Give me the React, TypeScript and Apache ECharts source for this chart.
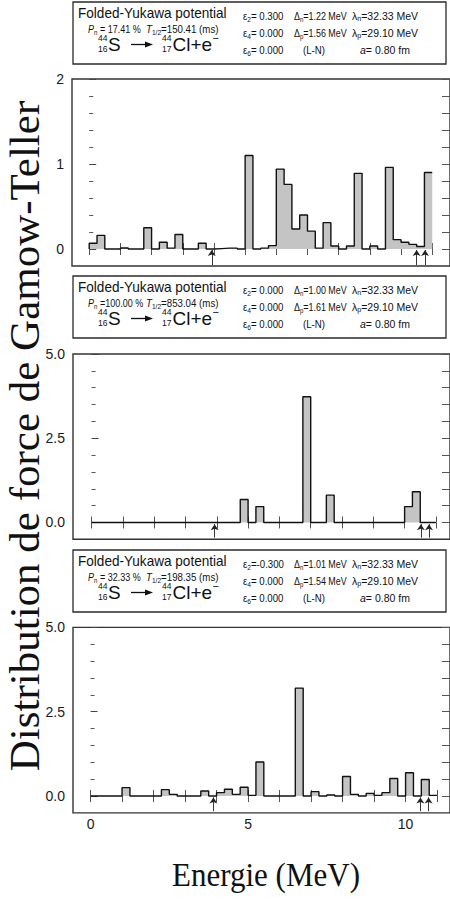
import React, { useEffect, useRef } from "react";
import * as echarts from "echarts";

// ---------- data ----------
const energyEdges = [
  0, 0.25, 0.5, 0.75, 1, 1.25, 1.5, 1.75, 2, 2.25, 2.5, 2.75, 3, 3.25, 3.5, 3.75,
  4, 4.25, 4.5, 4.75, 5, 5.25, 5.5, 5.75, 6, 6.25, 6.5, 6.75, 7, 7.25, 7.5, 7.75,
  8, 8.25, 8.5, 8.75, 9, 9.25, 9.5, 9.75, 10, 10.25, 10.5, 10.75,
];
const energyEnd = 11;

// eps2 = 0.300 (prolate)
const gtProlate = [
  0.067, 0.16, 0, 0, 0.012, 0, 0, 0.25, 0, 0.08, 0.01, 0.17, 0, 0, 0.067, 0,
  0.005, 0.01, 0.01, 0, 1.1, 0, 0.01, 0.04, 0.94, 0.76, 0.235, 0.4, 0.21, 0.01, 0.31, 0.035,
  0, 0.035, 0.89, 0, 0.035, 0, 0.96, 0.11, 0.08, 0.055, 0.03, 0.9,
];
// eps2 = 0.000 (spherical)
const gtSpherical = [
  0, 0, 0, 0, 0, 0, 0, 0, 0, 0, 0, 0, 0, 0, 0, 0,
  0, 0, 0, 0.68, 0, 0.47, 0, 0, 0, 0, 0, 3.73, 0, 0, 0.81, 0,
  0, 0, 0, 0, 0, 0, 0, 0, 0.47, 0.91, 0, 0,
];
// eps2 = -0.300 (oblate)
const gtOblate = [
  0, 0, 0, 0, 0.25, 0, 0, 0, 0, 0.19, 0.05, 0, 0, 0, 0.15, 0,
  0.1, 0.2, 0.05, 0.26, 0.02, 1.01, 0, 0, 0, 0, 3.2, 0, 0.13, 0, 0.03, 0,
  0.58, 0.05, 0, 0.08, 0.02, 0.1, 0.52, 0, 0.69, 0, 0.49, 0.02,
];

const arrowsProlate = [3.93, 10.5, 10.77];
const arrowsSpherical = [3.93, 10.52, 10.78];
const arrowsOblate = [3.9, 10.47, 10.73];

const xTickValues = [0, 1, 2, 3, 4, 5, 6, 7, 8, 9, 10, 11];
const xLabelValues = [0, 5, 10];
const yMajor1 = [0, 1, 2];
const yMinor1 = [0.2, 0.4, 0.6, 0.8, 1.2, 1.4, 1.6, 1.8];
const yMajor2 = [0, 2.5, 5];
const yMinor2 = [0.5, 1, 1.5, 2, 3, 3.5, 4, 4.5];

const pnValues = [17.41, 100.0, 32.33];
const t12Values = [150.41, 853.04, 198.35];
const eps2Values = [0.3, 0.0, -0.3];
const eps4Values = [0.0, 0.0, 0.0];
const eps6Values = [0.0, 0.0, 0.0];
const deltaNValues = [1.22, 1.0, 1.01];
const deltaPValues = [1.56, 1.61, 1.54];
const lambdaN = 32.33;
const lambdaP = 29.1;
const aDiffuse = 0.8;

const yTitle = "Distribution de force de Gamow-Teller";
const xTitle = "Energie (MeV)";
const potentialName = "Folded-Yukawa potential";

// ---------- layout ----------
const F = "'Liberation Sans', Arial, Helvetica, sans-serif";
const SERIF = "'Liberation Serif', 'Times New Roman', serif";

const panels = [
  { vals: gtProlate, arrows: arrowsProlate, left: 72, top: 79, height: 187, xMin: -0.552, xMax: 11.57,
    yMin: -0.2, yMax: 2, major: yMajor1, minor: yMinor1, dec: 0, arrowFrom: -0.19, arrowTo: -0.012 },
  { vals: gtSpherical, arrows: arrowsSpherical, left: 73, top: 354, height: 185.3, xMin: -0.593, xMax: 11.45,
    yMin: -0.5, yMax: 5, major: yMajor2, minor: yMinor2, dec: 1, arrowFrom: -0.45, arrowTo: -0.05 },
  { vals: gtOblate, arrows: arrowsOblate, left: 73, top: 627.4, height: 185.5, xMin: -0.557, xMax: 11.41,
    yMin: -0.5, yMax: 5, major: yMajor2, minor: yMinor2, dec: 1, arrowFrom: -0.45, arrowTo: -0.04 },
];
const boxTops = [2, 276, 550];

function stepData(vals: number[]) {
  const d: number[][] = [[energyEdges[0], 0]];
  vals.forEach((v, i) => d.push([energyEdges[i], v]));
  d.push([energyEnd, vals[vals.length - 1]]);
  return d;
}

const INK = "#111";
function tok(extra: any) {
  return { fontFamily: F, fill: INK, textFill: INK, color: INK, ...extra };
}
function rtext(x: number, y: number, text: string, size: number, sx = 1, align = "left") {
  return {
    type: "text",
    x, y, z: 20, silent: true, scaleX: sx, scaleY: 1,
    style: {
      text,
      fontSize: size, fontFamily: F, fill: INK, textFill: INK,
      align, textAlign: align, verticalAlign: "middle", textVerticalAlign: "middle",
      rich: {
        m: tok({ fontSize: size, lineHeight: size + 3 }),
        it: tok({ fontSize: size, fontStyle: "italic", lineHeight: size + 3 }),
        s: tok({ fontSize: size * 0.68, lineHeight: size * 0.68, verticalAlign: "bottom", textVerticalAlign: "bottom" }),
      },
    },
  };
}
function ptext(x: number, y: number, text: string, size: number, align = "left", family = F, sx = 1) {
  return {
    type: "text",
    x, y, z: 20, silent: true, scaleX: sx, scaleY: 1,
    style: {
      text, fontSize: size, fontFamily: family, fill: INK, textFill: INK,
      align, textAlign: align, verticalAlign: "middle", textVerticalAlign: "middle",
    },
  };
}

function fmtSigned(v: number) {
  return (v < 0 ? "-" : " ") + Math.abs(v).toFixed(3);
}

function boxElements(k: number) {
  const top = boxTops[k];
  const els: any[] = [];
  els.push({
    type: "rect", z: 15, silent: true,
    shape: { x: 73, y: top, width: 373, height: 62 },
    style: { fill: "#fff", stroke: "#2a2a2a", lineWidth: 1.3 },
  });
  els.push(ptext(78, top + 11.5, potentialName, 14, "left", F, 0.97));
  els.push(rtext(88, top + 27.5, `{it|P}{s|n}{m| =${pnValues[k].toFixed(2).padStart(6, " ")} %}`, 10, 0.9));
  els.push(rtext(146, top + 27.5, `{it|T}{s|1/2}{m|=${t12Values[k].toFixed(2)} (ms)}`, 10, 0.97));
  // 44/16 S -> 44/17 Cl + e-
  const ry = top + 42;
  els.push(ptext(107.5, ry - 6, "44", 8.5, "right"));
  els.push(ptext(107.5, ry + 4.5, "16", 8.5, "right"));
  els.push(ptext(108, ry, "S", 19));
  els.push({ type: "line", z: 20, silent: true, shape: { x1: 131, y1: ry + 0.5, x2: 148, y2: ry + 0.5 }, style: { stroke: INK, lineWidth: 1.3 } });
  els.push({ type: "polygon", z: 20, silent: true, shape: { points: [[153, ry + 0.5], [145, ry - 2.5], [145, ry + 3.5]] }, style: { fill: INK } });
  els.push(ptext(171.5, ry - 6, "44", 8.5, "right"));
  els.push(ptext(171.5, ry + 4.5, "17", 8.5, "right"));
  els.push(ptext(172.5, ry, "Cl+e", 19));
  els.push(ptext(212.5, ry - 6, "\u2212", 11));
  // parameters
  const r1 = top + 14, r2 = top + 31, r3 = top + 48;
  const fs = 10.5;
  els.push(rtext(243, r1, `{m|\u03b5}{s|2}{m|=${fmtSigned(eps2Values[k])}}`, fs, 0.92));
  els.push(rtext(243, r2, `{m|\u03b5}{s|4}{m|=${fmtSigned(eps4Values[k])}}`, fs, 0.92));
  els.push(rtext(243, r3, `{m|\u03b5}{s|6}{m|=${fmtSigned(eps6Values[k])}}`, fs, 0.92));
  els.push(rtext(294, r1, `{m|\u0394}{s|n}{m|=${deltaNValues[k].toFixed(2)} MeV}`, fs, 0.85));
  els.push(rtext(294, r2, `{m|\u0394}{s|p}{m|=${deltaPValues[k].toFixed(2)} MeV}`, fs, 0.85));
  els.push(ptext(314, r3, "(L-N)", fs, "center", F, 0.92));
  els.push(rtext(352, r1, `{m|\u03bb}{s|n}{m|=${lambdaN.toFixed(2)} MeV}`, fs, 1));
  els.push(rtext(352, r2, `{m|\u03bb}{s|p}{m|=${lambdaP.toFixed(2)} MeV}`, fs, 1));
  els.push(rtext(360, r3, `{it|a}{m|= ${aDiffuse.toFixed(2)} fm}`, fs, 1));
  return els;
}

function buildOption() {
  const grid: any[] = [];
  const xAxis: any[] = [];
  const yAxis: any[] = [];
  const series: any[] = [];
  const AX = "#333";
  panels.forEach((p, i) => {
    grid.push({
      left: p.left, top: p.top, width: 382, height: p.height,
      show: true, borderColor: AX, borderWidth: 1.4, backgroundColor: "rgba(0,0,0,0)",
      containLabel: false,
    });
    const baseX = {
      type: "value", gridIndex: i, min: p.xMin, max: p.xMax,
      axisLine: { show: false }, splitLine: { show: false },
      axisTick: { show: true, inside: true, length: 6, customValues: xTickValues, lineStyle: { color: "#555", width: 1 } },
    };
    xAxis.push({
      ...baseX, position: "bottom",
      axisLabel: {
        show: i === 2, customValues: xLabelValues, margin: 4,
        fontFamily: F, fontSize: 14, color: "#1a1a1a",
        formatter: (v: number) => String(v),
      },
    });
    xAxis.push({ ...baseX, position: "top", axisLabel: { show: false } });
    const baseY = {
      type: "value", gridIndex: i, min: p.yMin, max: p.yMax,
      axisLine: { show: false }, splitLine: { show: false },
    };
    yAxis.push({
      ...baseY, position: "left",
      axisTick: { show: true, inside: true, length: 7, customValues: p.major, lineStyle: { color: "#444", width: 1 } },
      axisLabel: {
        show: true, customValues: p.major, margin: 8,
        fontFamily: F, fontSize: 14, color: "#1a1a1a",
        formatter: (v: number) => v.toFixed(p.dec),
      },
    });
    yAxis.push({
      ...baseY, position: "left",
      axisTick: { show: true, inside: true, length: 4, customValues: p.minor, lineStyle: { color: "#555", width: 1 } },
      axisLabel: { show: false },
    });
    yAxis.push({
      ...baseY, position: "right",
      axisTick: { show: true, inside: true, length: 8, customValues: [...p.major, ...p.minor], lineStyle: { color: "#555", width: 1 } },
      axisLabel: { show: false },
    });
    series.push({
      type: "line",
      xAxisIndex: 2 * i, yAxisIndex: 3 * i,
      data: stepData(p.vals),
      step: "end",
      symbol: "none",
      silent: true,
      lineStyle: { color: INK, width: 1.4 },
      areaStyle: { color: "#c4c4c4", opacity: 1 },
      markLine: {
        silent: true,
        symbol: ["none", "arrow"],
        symbolSize: 6,
        label: { show: false },
        lineStyle: { color: "#222", width: 0.9, type: "solid" },
        data: p.arrows.map((e) => [{ coord: [e, p.arrowFrom] }, { coord: [e, p.arrowTo] }]),
      },
    });
  });

  const graphic: any[] = [];
  [0, 1, 2].forEach((k) => graphic.push(...boxElements(k)));
  graphic.push({
    type: "text", x: 24, y: 436, rotation: Math.PI / 2, z: 20, silent: true,
    style: {
      text: yTitle, fontSize: 43, fontFamily: SERIF, fill: INK, textFill: INK,
      align: "center", textAlign: "center", verticalAlign: "middle", textVerticalAlign: "middle",
    },
  });
  graphic.push({
    type: "text", x: 266, y: 874, z: 20, silent: true, scaleY: 1.1,
    style: {
      text: xTitle, fontSize: 31, fontFamily: SERIF, fill: INK, textFill: INK,
      align: "center", textAlign: "center", verticalAlign: "middle", textVerticalAlign: "middle",
    },
  });

  return {
    animation: false,
    backgroundColor: "#fff",
    textStyle: { fontFamily: F },
    grid, xAxis, yAxis, series, graphic,
  };
}

export default function App() {
  const ref = useRef<HTMLDivElement>(null);
  useEffect(() => {
    if (!ref.current) return;
    const chart = echarts.init(ref.current, undefined, { renderer: "svg" });
    chart.setOption(buildOption() as any);
    return () => chart.dispose();
  }, []);
  return (
    <div
      ref={ref}
      style={{ position: "fixed", left: 0, top: 0, width: 450, height: 900, background: "#fff" }}
    />
  );
}
